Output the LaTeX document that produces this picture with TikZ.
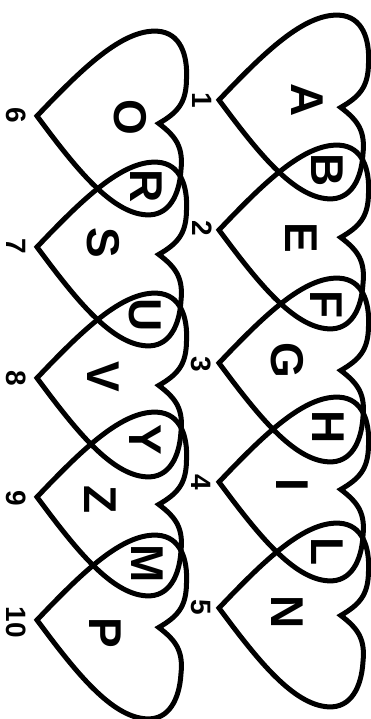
\documentclass[tikz,border=0pt]{standalone}
\usepackage{fontspec}
\setmainfont{Liberation Sans}

\begin{document}
\begin{tikzpicture}[x=1pt,y=-1pt,
  pics/heart/.style={code={
    \draw[line width=5pt] (0,0) .. controls (42,-50) and (80,-92) .. (115,-92)
      .. controls (138,-92) and (147,-70) .. (147,-45)
      .. controls (148,-22) and (140,-12) .. (122,0)
      .. controls (140,12) and (148,22) .. (147,45)
      .. controls (147,70) and (138,92) .. (115,92)
      .. controls (80,92) and (42,50) .. (0,0) -- cycle;}}]
  \tikzset{ltr/.style={rotate=-90,inner sep=0pt,font=\fontsize{46}{46}\selectfont\bfseries},
    num/.style={rotate=-90,inner sep=0pt,font=\fontsize{28}{28}\selectfont\bfseries}}
  \useasboundingbox (0,0) rectangle (370,719);
  % right column
  \pic[rotate=-3.5] at (219,100) {heart};
  \pic[rotate=-3.5] at (219,230) {heart};
  \pic[rotate=-3.5] at (219,363) {heart};
  \pic[rotate=-3.5] at (219,482) {heart};
  \pic[rotate=-3.5] at (219,608) {heart};
  % left column
  \pic[rotate=-3.5] at (37,116) {heart};
  \pic[rotate=-3.5] at (37,247) {heart};
  \pic[rotate=-3.5] at (37,378) {heart};
  \pic[rotate=-3.5] at (37,497) {heart};
  \pic[rotate=-3.5] at (37,620) {heart};
  % letters
  \node[ltr] (a) at (307,100) {A};
  \node[ltr] (b) at (327,170) {B};
  \node[ltr] (e) at (301,238) {E};
  \node[ltr] (f) at (326,305) {F};
  \node[ltr] (g) at (287,360) {G};
  \node[ltr] (h) at (328,427) {H};
  \node[ltr] (i) at (292,485) {I};
  \node[ltr] (l) at (327,552) {L};
  \node[ltr] (n) at (287,612) {N};
  \node[ltr] (o) at (130,117) {O};
  \node[ltr] (r) at (146,186) {R};
  \node[ltr] (s) at (103,243) {S};
  \node[ltr] (u) at (145,315) {U};
  \node[ltr] (v) at (103,377) {V};
  \node[ltr] (y) at (145,440) {Y};
  \node[ltr] (z) at (100,500) {Z};
  \node[ltr] (m) at (147,564) {M};
  \node[ltr] (p) at (105,633) {P};
  % numbers
  \node[num] (n1) at (202,100) {1};
  \node[num] (n2) at (202,228) {2};
  \node[num] (n3) at (201,364) {3};
  \node[num] (n4) at (201,482) {4};
  \node[num] (n5) at (201,607) {5};
  \node[num] (n6) at (16,115) {6};
  \node[num] (n7) at (16,246) {7};
  \node[num] (n8) at (16,378) {8};
  \node[num] (n9) at (16,498) {9};
  \node[num] (n10) at (16,622) {10};
\end{tikzpicture}
\end{document}
